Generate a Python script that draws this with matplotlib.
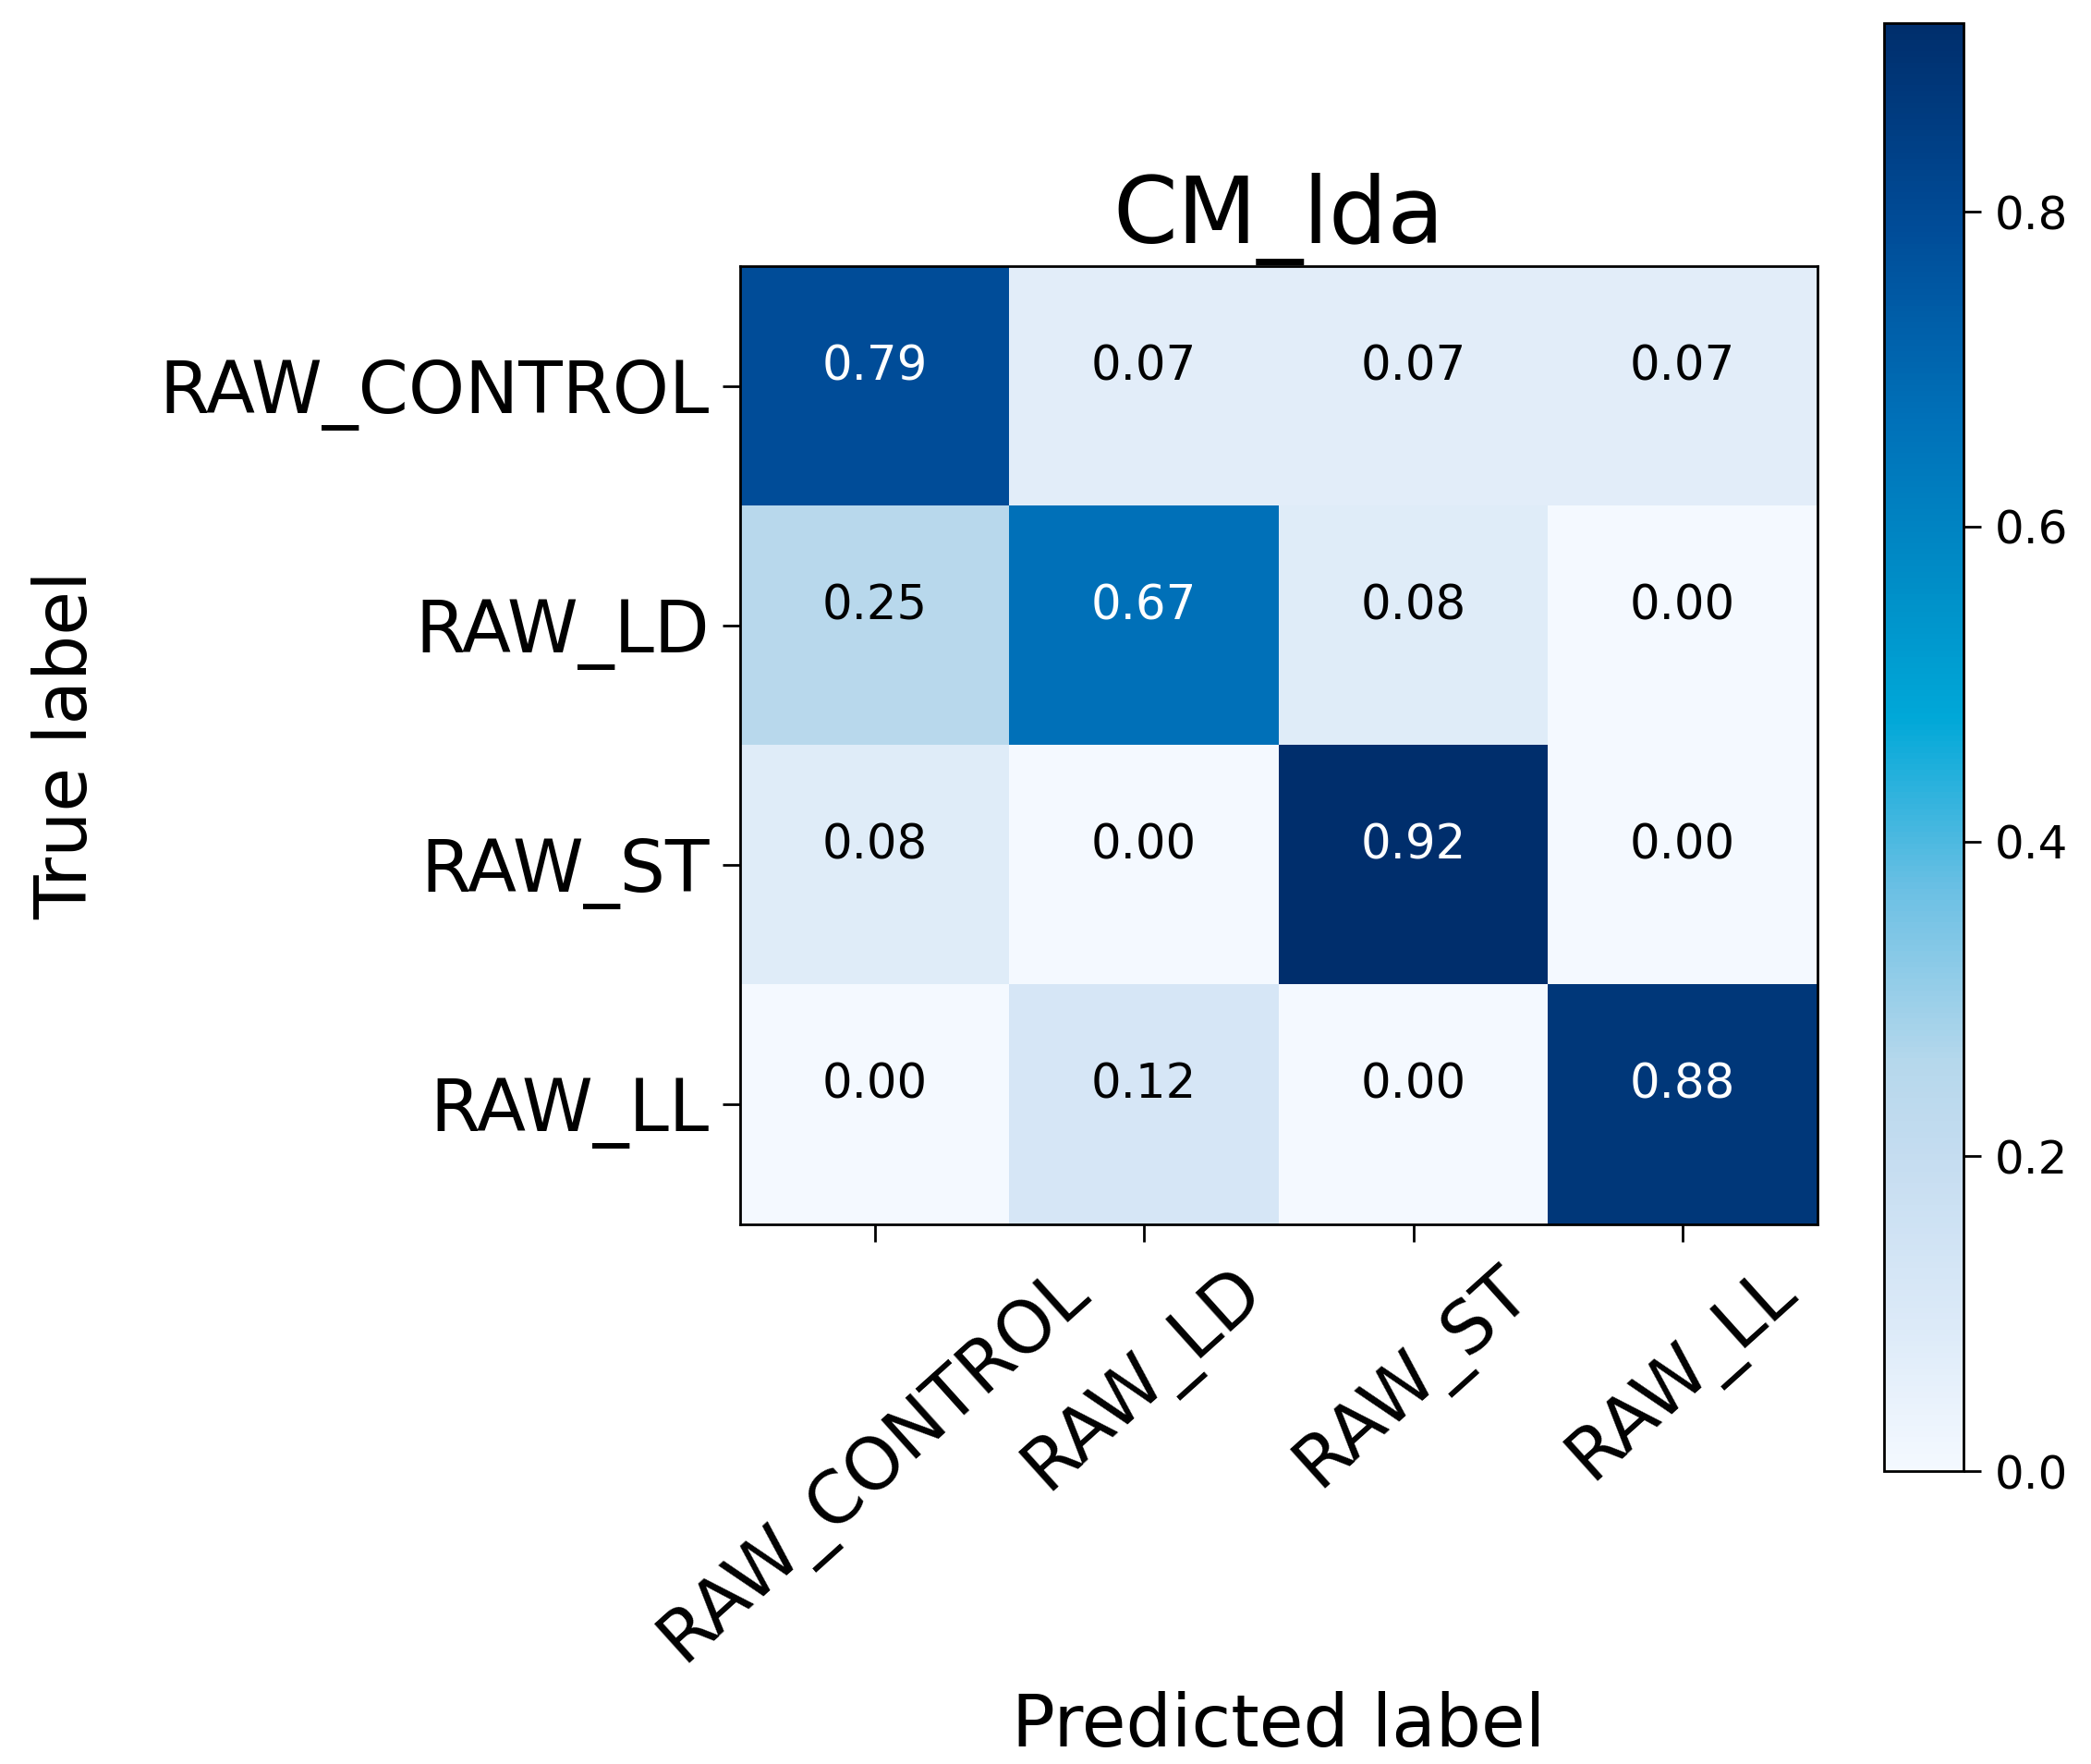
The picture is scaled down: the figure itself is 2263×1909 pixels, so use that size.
import numpy as np
import matplotlib
matplotlib.use("Agg")
import matplotlib.pyplot as plt
from matplotlib.colors import LinearSegmentedColormap

classes = ["RAW_CONTROL", "RAW_LD", "RAW_ST", "RAW_LL"]
cm = np.array([
    [0.79, 0.07, 0.07, 0.07],
    [0.25, 0.67, 0.08, 0.00],
    [0.08, 0.00, 0.92, 0.00],
    [0.00, 0.12, 0.00, 0.88],
])
title = "CM_lda"

# saturated blues, as the reference shows them
cmap = LinearSegmentedColormap.from_list("blues_sat", [
    (0.00, "#f4f9ff"),
    (0.10, "#dceaf8"),
    (0.22, "#c4dcf0"),
    (0.28, "#b6d8ec"),
    (0.40, "#6cc0e4"),
    (0.52, "#00a8d8"),
    (0.62, "#008cc6"),
    (0.73, "#0070b8"),
    (0.86, "#004c98"),
    (1.00, "#002e6c"),
])

fig = plt.figure(figsize=(22.63, 19.09), dpi=100)
ax = fig.add_axes([0.354, 0.306, 0.515, 0.543])
cax = fig.add_axes([0.901, 0.166, 0.038, 0.821])

im = ax.imshow(cm, cmap=cmap, aspect="auto", vmin=0, vmax=cm.max())
ax.set_title(title, fontsize=72, pad=18)

ticks = np.arange(len(classes))
ax.set_xticks(ticks)
ax.set_yticks(ticks)
ax.set_xticklabels(classes, rotation=42, fontsize=56)
ax.set_yticklabels(classes, fontsize=56)
ax.tick_params(length=14, width=2, pad=10)
for s in ax.spines.values():
    s.set_linewidth(2)

thresh = cm.max() / 2.0
for i in range(cm.shape[0]):
    for j in range(cm.shape[1]):
        ax.text(j, i - 0.08, f"{cm[i, j]:.2f}", ha="center", va="center", fontsize=37,
                color="white" if cm[i, j] > thresh else "black")

ax.set_ylabel("True label", fontsize=56, labelpad=45)
ax.set_xlabel("Predicted label", fontsize=56, labelpad=12)

cb = fig.colorbar(im, cax=cax)
cb.set_ticks([0.0, 0.2, 0.4, 0.6, 0.8])
cb.ax.tick_params(labelsize=36, length=14, width=2, pad=10)
cb.outline.set_linewidth(2)

fig.savefig("out.png", dpi=100)
